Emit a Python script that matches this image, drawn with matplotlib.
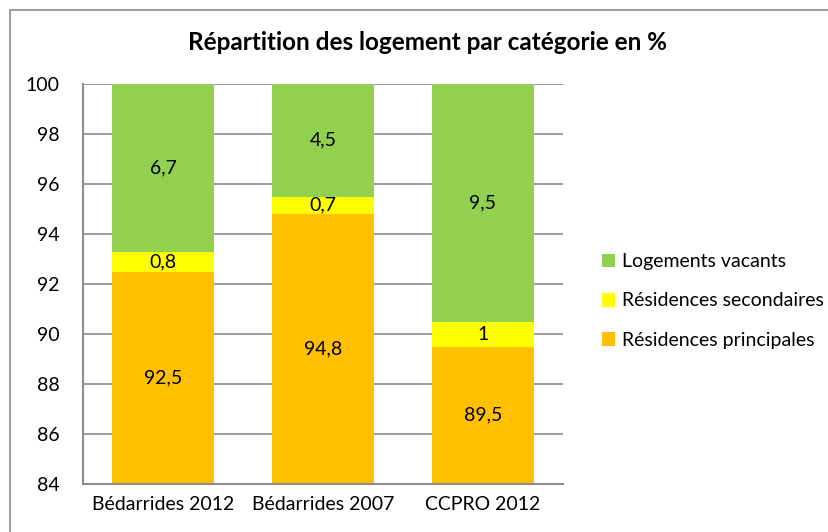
import numpy as np
import matplotlib
matplotlib.use('Agg')
import matplotlib.pyplot as plt
from matplotlib.patches import Rectangle

plt.rcParams['font.family'] = ['Lato', 'DejaVu Sans']

categories = ['Bédarrides 2012', 'Bédarrides 2007', 'CCPRO 2012']
principales = [92.5, 94.8, 89.5]
secondaires = [0.8, 0.7, 1.0]
vacants = [6.7, 4.5, 9.5]
series_names = ['Résidences principales', 'Résidences secondaires', 'Logements vacants']
colors = ['#FFC000', '#FFFF00', '#92D050']
ymin, ymax = 84, 100


def fmt(v):
    s = f'{v:g}'
    return s.replace('.', ',')


fig = plt.figure(figsize=(8.29, 5.32), dpi=100)
ax = fig.add_axes([83 / 829, 48 / 532, 480 / 829, 400 / 532])

# outer chart frame
fig.patches.append(Rectangle((10 / 829, -0.1), 1.2, (532 - 10) / 532 + 0.1,
                             transform=fig.transFigure, fill=False,
                             edgecolor='#8c8c8c', linewidth=1.2, zorder=0))

x = np.arange(len(categories))
bottom = np.zeros(len(categories))
handles = []
for name, vals, c in zip(series_names, [principales, secondaires, vacants], colors):
    vals = np.array(vals)
    b = ax.bar(x, vals, 0.64, bottom=bottom, color=c, label=name, zorder=2)
    handles.append(b)
    for xi, lo, v in zip(x, bottom, vals):
        lo_vis = max(lo, ymin)
        hi_vis = min(lo + v, ymax)
        ax.text(xi, (lo_vis + hi_vis) / 2, fmt(v), ha='center', va='center',
                fontsize=14, color='black', zorder=3)
    bottom = bottom + vals

ax.set_xlim(-0.5, len(categories) - 0.5)
ax.set_ylim(ymin, ymax)
ax.set_yticks(np.arange(84, 101, 2))
ax.set_xticks(x)
ax.set_xticklabels(categories, fontsize=14)
ax.tick_params(axis='y', labelsize=14, length=0, pad=17)
ax.tick_params(axis='x', length=0, pad=9)
ax.yaxis.grid(True, color='#8c8c8c', linewidth=1.2, zorder=1)
ax.set_axisbelow(True)
for s in ['top', 'right']:
    ax.spines[s].set_visible(False)
for s in ['left', 'bottom']:
    ax.spines[s].set_color('#8c8c8c')
    ax.spines[s].set_linewidth(1.5)

fig.text(427 / 829, 1 - 43 / 532, 'Répartition des logement par catégorie en %',
         ha='center', va='center', fontsize=17.5, fontweight='bold')

leg = fig.legend(handles[::-1], series_names[::-1], loc='center left',
                 bbox_to_anchor=(584 / 829, 1 - 301 / 532), frameon=False,
                 fontsize=14, handlelength=0.7, handleheight=0.7,
                 handletextpad=0.35, labelspacing=1.15)

fig.savefig('out.png', dpi=100)
